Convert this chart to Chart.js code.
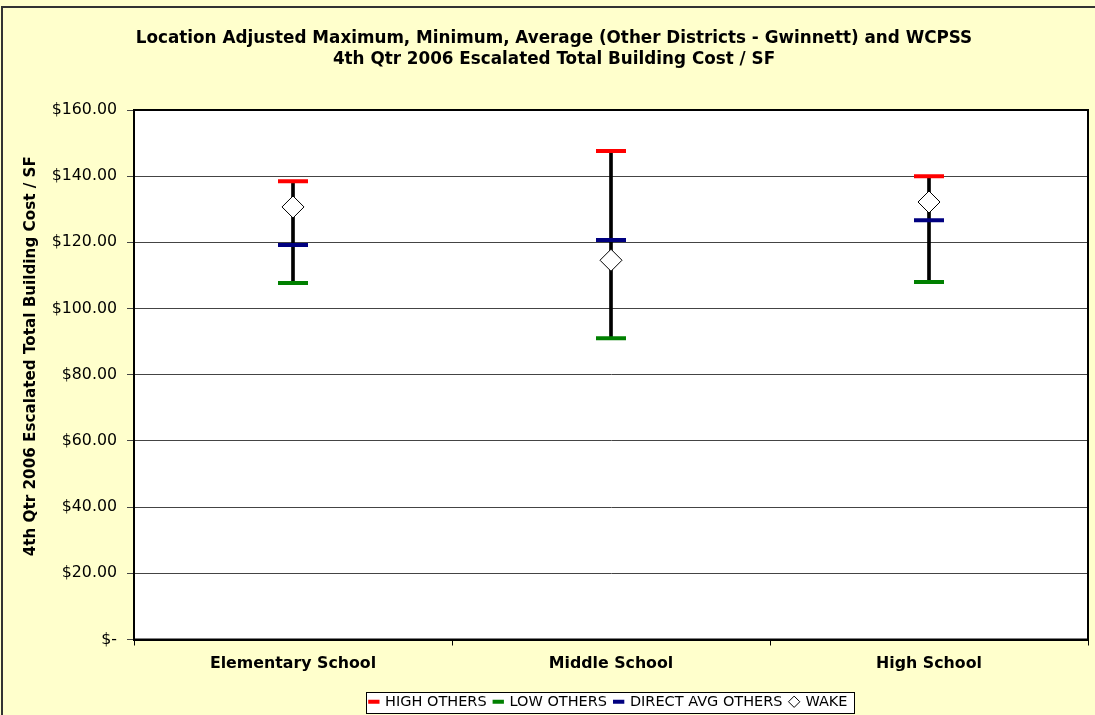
<!DOCTYPE html>
<html>
<head>
<meta charset="utf-8">
<script src="https://cdn.jsdelivr.net/npm/chart.js@4.4.0/dist/chart.umd.min.js"></script>
<style>
  html, body { margin: 0; padding: 0; background: #FFFFCC; overflow: hidden; }
  #wrap { width: 1095px; height: 715px; overflow: hidden; }
</style>
</head>
<body>
<div id="wrap"><canvas id="myChart" width="1107" height="719"></canvas></div>
<script>
const schools = ['Elementary School', 'Middle School', 'High School']
const highOthers = [138.5, 147.6, 140.0]
const lowOthers = [107.7, 91.0, 108.0]
const avgOthers = [119.2, 120.7, 126.7]
const wake = [130.7, 114.6, 132.2]

const fontFam = '"DejaVu Sans", Verdana, sans-serif'

function legendBox(chart) {
    const boxes = chart.legend ? chart.legend.legendHitBoxes : []
    if (!boxes || !boxes.length) return null
    const x0 = Math.min(...boxes.map(b => b.left)) - 4
    const x1 = Math.max(...boxes.map(b => b.left + b.width)) + 2
    const y0 = Math.min(...boxes.map(b => b.top)) - 3
    const y1 = Math.max(...boxes.map(b => b.top + b.height)) + 3
    return { x: Math.round(x0) + 0.5, y: Math.round(y0) + 0.5, w: Math.round(x1 - x0), h: Math.round(y1 - y0) }
}

// yellow background, outer frame, plot-area box, legend box
const frame = {
    id: 'frame',
    beforeDraw(chart) {
        const c = chart.ctx
        c.save()
        c.fillStyle = '#FFFFCC'
        c.fillRect(0, 0, chart.width, chart.height)
        c.strokeStyle = '#333'
        c.lineWidth = 2
        c.strokeRect(2, 7, chart.width + 10, chart.height + 10)
        const a = chart.chartArea
        c.fillStyle = '#fff'
        c.fillRect(a.left, a.top, a.right - a.left, a.bottom - a.top)
        const lb = legendBox(chart)
        if (lb) c.fillRect(lb.x, lb.y, lb.w, lb.h)
        c.restore()
    },
    afterDraw(chart) {
        const c = chart.ctx
        const a = chart.chartArea
        c.save()
        c.strokeStyle = '#000'
        c.lineWidth = 2
        c.strokeRect(a.left, a.top, a.right - a.left, a.bottom - a.top)
        const lb = legendBox(chart)
        if (lb) {
            c.lineWidth = 1
            c.strokeRect(lb.x, lb.y, lb.w, lb.h)
        }
        c.restore()
    }
}

new Chart(document.getElementById('myChart').getContext('2d'), {
    type: 'bar',
    data: {
        labels: schools,
        datasets: [
            {
                label: 'HIGH OTHERS',
                type: 'line',
                data: highOthers,
                showLine: false,
                pointStyle: 'line',
                pointRadius: 15,
                pointHoverRadius: 15,
                borderColor: '#FF0000',
                backgroundColor: '#FF0000',
                pointBorderWidth: 4,
                order: 1
            },
            {
                label: 'LOW OTHERS',
                type: 'line',
                data: lowOthers,
                showLine: false,
                pointStyle: 'line',
                pointRadius: 15,
                pointHoverRadius: 15,
                borderColor: '#008000',
                backgroundColor: '#008000',
                pointBorderWidth: 4,
                order: 1
            },
            {
                label: 'DIRECT AVG OTHERS',
                type: 'line',
                data: avgOthers,
                showLine: false,
                pointStyle: 'line',
                pointRadius: 15,
                pointHoverRadius: 15,
                borderColor: '#000080',
                backgroundColor: '#000080',
                pointBorderWidth: 4,
                order: 1
            },
            {
                label: 'WAKE',
                type: 'line',
                data: wake,
                showLine: false,
                pointStyle: 'rectRot',
                pointRadius: 11,
                pointHoverRadius: 11,
                borderColor: '#000',
                backgroundColor: '#fff',
                pointBorderWidth: 1,
                order: 0
            },
            {
                label: 'range',
                data: schools.map((s, i) => [lowOthers[i], highOthers[i]]),
                backgroundColor: '#000',
                barThickness: 3,
                order: 5
            }
        ]
    },
    options: {
        responsive: false,
        animation: false,
        devicePixelRatio: 1,
        layout: { padding: { left: 8, right: 7, top: 0, bottom: 0 } },
        plugins: {
            tooltip: { enabled: false },
            title: {
                display: true,
                text: ['Location Adjusted Maximum, Minimum, Average (Other Districts - Gwinnett) and WCPSS',
                       '4th Qtr 2006 Escalated Total Building Cost / SF'],
                color: '#000',
                font: { family: fontFam, size: 16.8, weight: 'bold', lineHeight: 1.25 },
                padding: { top: 28, bottom: 40 }
            },
            legend: {
                position: 'bottom',
                fullSize: false,
                labels: {
                    color: '#000',
                    font: { family: fontFam, size: 14.5 },
                    usePointStyle: true,
                    boxWidth: 8,
                    boxHeight: 8,
                    padding: 3,
                    // a trailing space gives the little gap Excel leaves between entries
                    generateLabels: chart => Chart.defaults.plugins.legend.labels.generateLabels(chart)
                        .map(item => Object.assign(item, { text: item.text + ' ' })),
                    filter: item => item.text.trim() !== 'range',
                    sort: (a, b) => a.datasetIndex - b.datasetIndex
                }
            }
        },
        scales: {
            x: {
                grid: {
                    offset: true,
                    drawOnChartArea: false,
                    drawTicks: true,
                    tickLength: 6,
                    color: '#000'
                },
                border: { color: '#000', width: 2 },
                ticks: {
                    color: '#000',
                    font: { family: fontFam, size: 15.8, weight: 'bold' },
                    padding: 9
                },
                afterFit(scale) {
                    scale.height = 52
                }
            },
            y: {
                min: 0,
                max: 160,
                ticks: {
                    stepSize: 20,
                    color: '#000',
                    font: { family: fontFam, size: 15.8 },
                    padding: 10,
                    callback: v => v === 0 ? '$-' : '$' + v.toFixed(2)
                },
                grid: { color: '#444', lineWidth: 1, tickLength: 7 },
                border: { color: '#000', width: 2 },
                title: {
                    display: true,
                    text: '       4th Qtr 2006 Escalated Total Building Cost / SF',
                    color: '#000',
                    font: { family: fontFam, size: 15.2, weight: 'bold' },
                    padding: { top: 14, bottom: 8 }
                },
                afterFit(scale) { scale.width = 126 }
            }
        }
    },
    plugins: [frame]
})
</script>
</body>
</html>
